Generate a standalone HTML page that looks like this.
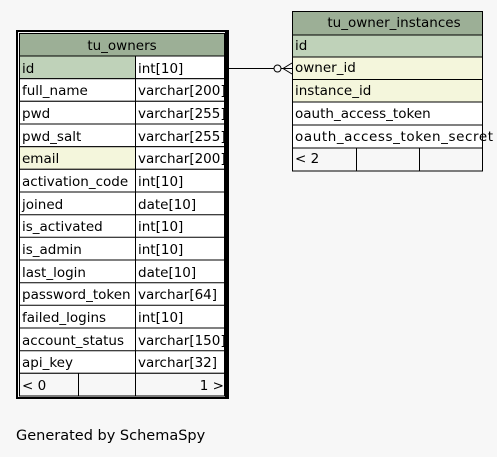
<!DOCTYPE html>
<html><head><meta charset="utf-8"><style>
html,body{margin:0;padding:0;background:#f7f7f7;}
svg{display:block;}
text{font-family:"DejaVu Sans","Liberation Sans",sans-serif;font-size:13.5px;fill:#000;}
</style></head><body>
<svg width="497" height="457" viewBox="0 0 497 457" xmlns="http://www.w3.org/2000/svg">
<defs>
<clipPath id="c1"><rect x="19" y="0" width="115" height="457"/></clipPath>
<clipPath id="c2"><rect x="136" y="0" width="88" height="457"/></clipPath>
</defs>
<rect x="0" y="0" width="497" height="457" fill="#f7f7f7"/>
<rect x="16" y="30" width="213" height="369" fill="#000"/>
<rect x="18" y="32" width="207" height="365" fill="#f7f7f7"/>
<rect x="19.5" y="33.5" width="205" height="22.5" fill="#9caf96" stroke="#000"/>
<text x="122" y="50" text-anchor="middle">tu_owners</text>
<g stroke="#000" stroke-width="1">
<rect x="19.5" y="56" width="116" height="22.7" fill="#bfd2b9"/>
<rect x="135.5" y="56" width="89" height="22.7" fill="#fff"/>
<rect x="19.5" y="78.7" width="205" height="22.6" fill="#fff"/>
<rect x="19.5" y="101.3" width="205" height="22.7" fill="#fff"/>
<rect x="19.5" y="124" width="205" height="22.7" fill="#fff"/>
<rect x="19.5" y="146.7" width="116" height="22.6" fill="#f4f6dc"/>
<rect x="135.5" y="146.7" width="89" height="22.6" fill="#fff"/>
<rect x="19.5" y="169.3" width="205" height="204" fill="#fff"/>
<line x1="19.5" y1="192" x2="224.5" y2="192"/>
<line x1="19.5" y1="214.7" x2="224.5" y2="214.7"/>
<line x1="19.5" y1="237.3" x2="224.5" y2="237.3"/>
<line x1="19.5" y1="260" x2="224.5" y2="260"/>
<line x1="19.5" y1="282.7" x2="224.5" y2="282.7"/>
<line x1="19.5" y1="305.3" x2="224.5" y2="305.3"/>
<line x1="19.5" y1="328" x2="224.5" y2="328"/>
<line x1="19.5" y1="350.7" x2="224.5" y2="350.7"/>
<line x1="135.5" y1="78.7" x2="135.5" y2="396"/>
<rect x="19.5" y="373.3" width="205" height="22.7" fill="#f7f7f7"/>
<line x1="78.5" y1="373.3" x2="78.5" y2="396"/>
<line x1="135.5" y1="373.3" x2="135.5" y2="396"/>
</g>
<g clip-path="url(#c1)">
<text x="22" y="73">id</text>
<text x="22" y="95">full_name</text>
<text x="22" y="118">pwd</text>
<text x="22" y="141">pwd_salt</text>
<text x="22" y="163">email</text>
<text x="22" y="186">activation_code</text>
<text x="22" y="209">joined</text>
<text x="22" y="231">is_activated</text>
<text x="22" y="254">is_admin</text>
<text x="22" y="277">last_login</text>
<text x="22" y="299">password_token</text>
<text x="22" y="322">failed_logins</text>
<text x="22" y="345">account_status</text>
<text x="22" y="367">api_key</text>
<text x="22" y="390">&lt; 0</text>
</g>
<g clip-path="url(#c2)">
<text x="138" y="73">int[10]</text>
<text x="138" y="95">varchar[200]</text>
<text x="138" y="118">varchar[255]</text>
<text x="138" y="141">varchar[255]</text>
<text x="138" y="163">varchar[200]</text>
<text x="138" y="186">int[10]</text>
<text x="138" y="209">date[10]</text>
<text x="138" y="231">int[10]</text>
<text x="138" y="254">int[10]</text>
<text x="138" y="277">date[10]</text>
<text x="138" y="299">varchar[64]</text>
<text x="138" y="322">int[10]</text>
<text x="138" y="345">varchar[150]</text>
<text x="138" y="367">varchar[32]</text>
<text x="224" y="390" text-anchor="end">1 &gt;</text>
</g>
<g stroke="#000" stroke-width="1">
<rect x="292.5" y="11.5" width="190" height="23.5" fill="#9caf96"/>
<rect x="292.5" y="35" width="190" height="22" fill="#bfd2b9"/>
<rect x="292.5" y="57" width="190" height="22.5" fill="#f4f6dc"/>
<rect x="292.5" y="79.5" width="190" height="22.5" fill="#f4f6dc"/>
<rect x="292.5" y="102" width="190" height="23" fill="#fff"/>
<rect x="292.5" y="125" width="190" height="23" fill="#fff"/>
<rect x="292.5" y="148" width="190" height="23" fill="#f7f7f7"/>
<line x1="356.5" y1="148" x2="356.5" y2="171"/>
<line x1="419.5" y1="148" x2="419.5" y2="171"/>
</g>
<text x="394" y="27" text-anchor="middle">tu_owner_instances</text>
<text x="295" y="50">id</text>
<text x="295" y="72">owner_id</text>
<text x="295" y="95">instance_id</text>
<text x="295" y="118">oauth_access_token</text>
<text x="295" y="141" textLength="198">oauth_access_token_secret</text>
<text x="295" y="163">&lt; 2</text>
<g stroke="#000" stroke-width="1" fill="none">
<line x1="229" y1="68.5" x2="274" y2="68.5"/>
<circle cx="277.5" cy="68.5" r="3.5" fill="#f7f7f7"/>
<line x1="281" y1="68.5" x2="292" y2="68.5"/>
<line x1="283" y1="68.5" x2="292" y2="63"/>
<line x1="283" y1="68.5" x2="292" y2="74"/>
</g>
<text x="16" y="440" style="font-size:14.5px">Generated by SchemaSpy</text>
</svg>
</body></html>
